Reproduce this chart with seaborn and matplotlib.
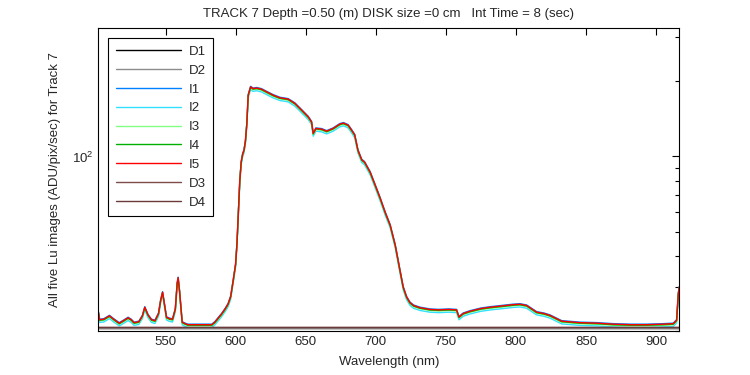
import numpy as np
import pandas as pd
import matplotlib
matplotlib.use("Agg")
import matplotlib.pyplot as plt
import seaborn as sns
from matplotlib.ticker import NullFormatter, LogLocator

# wavelength grid (nm) and I5 spectrum
wavelength = [502, 503, 506, 510, 513, 517, 520, 523.3, 525.5, 527.6, 531, 533.5, 535.2, 537.5,
              540, 542.5, 545, 546.5, 547.9, 549.3, 550.7, 553, 555, 557, 558.3, 559, 560, 561.9,
              564, 566, 570, 575, 580, 583, 585.2, 587.5, 590, 592.5, 594.7, 596.5, 598.3, 600,
              601, 602, 603, 604, 605, 606, 607, 608, 609, 610.7, 612.5, 615, 618.5, 622, 626.8,
              631.6, 637.5, 642.3, 647.1, 651.8, 654.2, 655.4, 657.3, 661.4, 665, 669.6, 674.4,
              677, 680.3, 683, 685, 687.3, 690, 692, 696, 699.6, 703.2, 706.7, 710.3, 713.9,
              717.3, 719.6, 722, 724.4, 727, 731.5, 738.7, 745, 752, 757.7, 759.4, 762.4, 767.2,
              775, 781.5, 790, 798.1, 803, 807.7, 814.8, 820, 824.3, 832.7, 845.7, 858, 869.5,
              882, 893.3, 905, 912.3, 914.7, 915.9, 916.6]
i5 = [24.0, 22.2, 22.3, 23.0, 22.3, 21.5, 22.0, 22.6, 22.2, 21.6, 21.8, 23.0, 24.9, 23.2,
      22.2, 22.0, 23.5, 26.5, 28.6, 25.5, 22.7, 22.4, 22.3, 24.5, 31.0, 32.7, 29.0, 21.7,
      21.4, 21.2, 21.2, 21.2, 21.2, 21.2, 21.7, 22.5, 23.4, 24.5, 25.7, 27.5, 31.9, 37,
      45, 60, 80, 95, 102, 106, 115, 135, 176, 190, 187, 188, 186, 181.6, 176,
      171.8, 169.7, 163.2, 153.4, 144.2, 137.6, 123.7, 129.5, 128.7, 126.3, 129.5, 134.8,
      136, 133.5, 127, 122, 106, 97, 95, 86.6, 76.8, 68, 59.8, 53.1, 44.2,
      35, 30, 27.4, 26.0, 25.3, 24.8, 24.4, 24.3, 24.4, 24.3, 22.75, 23.5, 24.0,
      24.6, 24.9, 25.2, 25.5, 25.6, 25.3, 23.8, 23.5, 23.1, 21.9, 21.6, 21.5, 21.3,
      21.2, 21.2, 21.3, 21.4, 22.1, 28.2, 30]

# relative level of each light image against I5, and the flat dark levels
light_names = ["I1", "I2", "I3", "I4", "I5"]
light_gain = [1.005, 0.975, 0.99, 0.995, 1.0]
dark_names = ["D1", "D2", "D3", "D4"]
dark_level = [20.6, 20.65, 20.7, 20.7]

order = ["D1", "D2", "I1", "I2", "I3", "I4", "I5", "D3", "D4"]
colors = ["#000000", "#8c8c8c", "#0080ff", "#33e0ff", "#80ff80", "#00b000", "#ff0000",
          "#7f4c4c", "#6b3a3a"]

wl = np.array(wavelength)
frames = []
for name, g in zip(light_names, light_gain):
    frames.append(pd.DataFrame({"wl": wl, "val": np.array(i5) * g, "img": name}))
for name, d in zip(dark_names, dark_level):
    frames.append(pd.DataFrame({"wl": wl, "val": np.full(len(wl), d), "img": name}))
df = pd.concat(frames, ignore_index=True)

sns.set_style("white")
plt.rcParams["font.family"] = ["Liberation Sans", "DejaVu Sans"]
plt.rcParams["font.size"] = 9.5

fig = plt.figure(figsize=(7.5, 3.75), dpi=100)
ax = fig.add_axes([0.131, 0.1173, 0.7747, 0.8072])

sns.lineplot(data=df, x="wl", y="val", hue="img", hue_order=order,
             palette=dict(zip(order, colors)), estimator=None, sort=False,
             linewidth=1.0, ax=ax)

ax.set_yscale("log")
ax.set_xlim(502, 916.6)
ax.set_ylim(20, 326)
ax.set_xticks([550, 600, 650, 700, 750, 800, 850, 900])
ax.yaxis.set_major_locator(LogLocator(base=10))
ax.yaxis.set_minor_locator(LogLocator(base=10, subs=np.arange(2, 10)))
ax.yaxis.set_minor_formatter(NullFormatter())

ax.tick_params(which="both", direction="in", top=True, right=True, labelsize=9.5, color="black")
ax.tick_params(which="major", length=5, width=0.8)
ax.tick_params(which="minor", length=3, width=0.8)
for s in ax.spines.values():
    s.set_color("black")
    s.set_linewidth(0.8)

ax.set_xlabel("Wavelength (nm)", fontsize=9.5, labelpad=6)
ax.set_ylabel("All five Lu images (ADU/pix/sec) for Track 7", fontsize=9.5, labelpad=8)
ax.set_title("TRACK 7 Depth =0.50 (m) DISK size =0 cm   Int Time = 8 (sec)", fontsize=9.5, pad=8)

handles, labels = ax.get_legend_handles_labels()
leg = ax.legend(handles, labels, loc="upper left", bbox_to_anchor=(0.0167, 0.969),
                borderaxespad=0, frameon=True, fancybox=False, shadow=False, framealpha=1,
                edgecolor="black", fontsize=9.5, handlelength=4.9, labelspacing=0.5,
                borderpad=0.6, handletextpad=0.6)
leg.get_frame().set_linewidth(0.8)

fig.savefig("out.png", dpi=100)
